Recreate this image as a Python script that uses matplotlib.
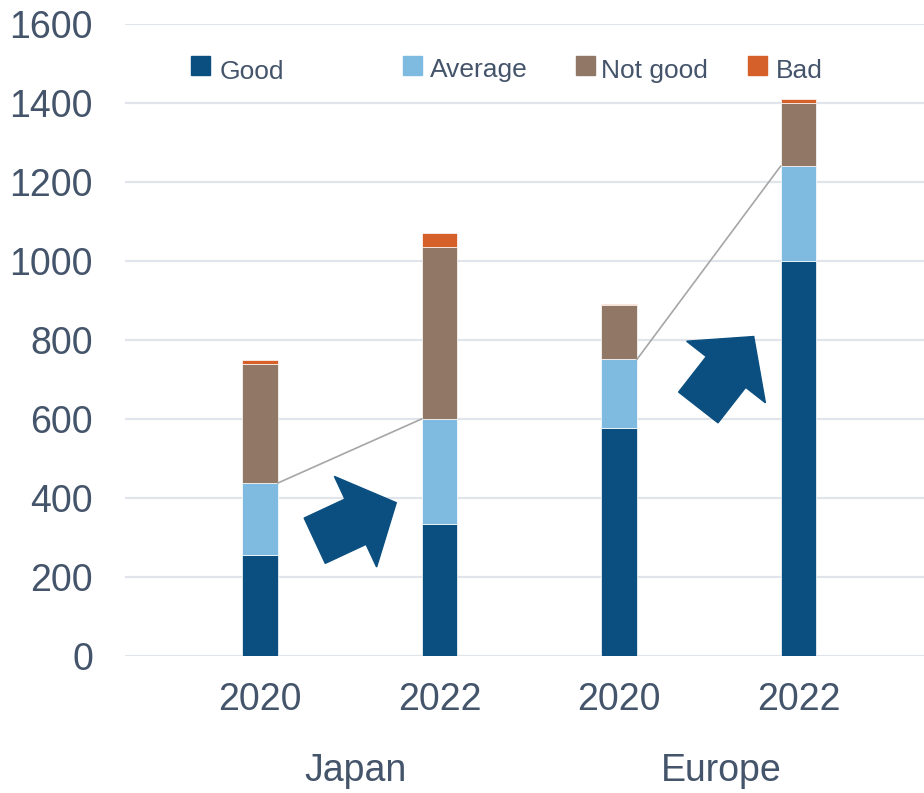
import numpy as np
import matplotlib
matplotlib.use("Agg")
import matplotlib.pyplot as plt
from matplotlib.patches import Polygon, Rectangle
from matplotlib.transforms import Affine2D, ScaledTranslation

plt.rcParams["font.family"] = ["Liberation Sans", "DejaVu Sans"]

# survey counts per region and year
regions = ["Japan", "Europe"]
years = ["2020", "2022", "2020", "2022"]
categories = ["Good", "Average", "Not good", "Bad"]
good = [256, 334, 577, 1000]
average = [182, 266, 174, 240]
not_good = [300, 435, 138, 161]
bad = [11, 36, 2, 10]

colors = ["#0B4F80", "#7FBBE1", "#917765", "#D5602A"]
text_color = "#44546A"
grid_color = "#E1E5EB"

fig = plt.figure(figsize=(9.24, 7.93), dpi=100)
ax = fig.add_axes([125 / 924, 137 / 793, 799 / 924, 632 / 793])

x = np.arange(len(years))
width = 0.2
bottom = np.zeros(len(years))
for vals, col in zip([good, average, not_good, bad], colors):
    ax.bar(x, vals, width, bottom=bottom, color=col, edgecolor="white",
           linewidth=0.5, zorder=3)
    bottom += np.array(vals)

# connector lines between the "Average" tops of each pair
avg_top = np.array(good) + np.array(average)
for i in (0, 2):
    ax.plot([x[i] + width / 2, x[i + 1] - width / 2], [avg_top[i], avg_top[i + 1]],
            color="#A6A6A6", lw=1.2, zorder=4)

ax.set_xlim(-0.752, 3.699)
ax.set_ylim(0, 1600)
ax.set_yticks(np.arange(0, 1601, 200))
ax.set_xticks(x)
ax.set_xticklabels(years)
ax.yaxis.grid(True, color=grid_color, lw=1.6, zorder=0)
ax.set_axisbelow(True)
for s in ax.spines.values():
    s.set_visible(False)
ax.tick_params(axis="both", length=0, labelsize=27, labelcolor=text_color)
ax.tick_params(axis="y", pad=23)
ax.tick_params(axis="x", pad=19)

# region labels under each pair of years
for j, name in enumerate(regions):
    ax.text(2 * j + 0.53 + 0.04 * j, -0.198, name, fontsize=27,
            color=text_color, ha="center", va="baseline",
            transform=ax.get_xaxis_transform())


def block_arrow(xc, yc, angle):
    # arrow shape in pixels, centred on the origin, pointing along +x
    shaft_w, head_w, shaft_l, head_l = 50, 100, 45, 45
    total = shaft_l + head_l
    x0 = -total / 2
    pts = [(x0, -shaft_w / 2), (x0 + shaft_l, -shaft_w / 2), (x0 + shaft_l, -head_w / 2),
           (total / 2, 0), (x0 + shaft_l, head_w / 2), (x0 + shaft_l, shaft_w / 2),
           (x0, shaft_w / 2)]
    tr = (Affine2D().rotate_deg(angle).scale(1 / fig.dpi) + fig.dpi_scale_trans
          + ScaledTranslation(xc, yc, ax.transData))
    ax.add_patch(Polygon(pts, closed=True, transform=tr, color=colors[0],
                         zorder=5, clip_on=False))


block_arrow(0.532, 340, 25)
block_arrow(2.596, 719, 52)

# legend row at the top
legend_sq = [191, 403, 576, 748]
legend_tx = [220, 430, 601, 776]
legend_base = [79, 77, 78, 78]
for lab, col, sx, tx, by in zip(categories, colors, legend_sq, legend_tx, legend_base):
    fig.patches.append(Rectangle((sx / 924, (793 - 75) / 793), 19 / 924, 19 / 793,
                                 transform=fig.transFigure, color=col))
    fig.text(tx / 924, (793 - by) / 793, lab, fontsize=19, color=text_color,
             ha="left", va="baseline")

fig.savefig("out.png", dpi=100)
